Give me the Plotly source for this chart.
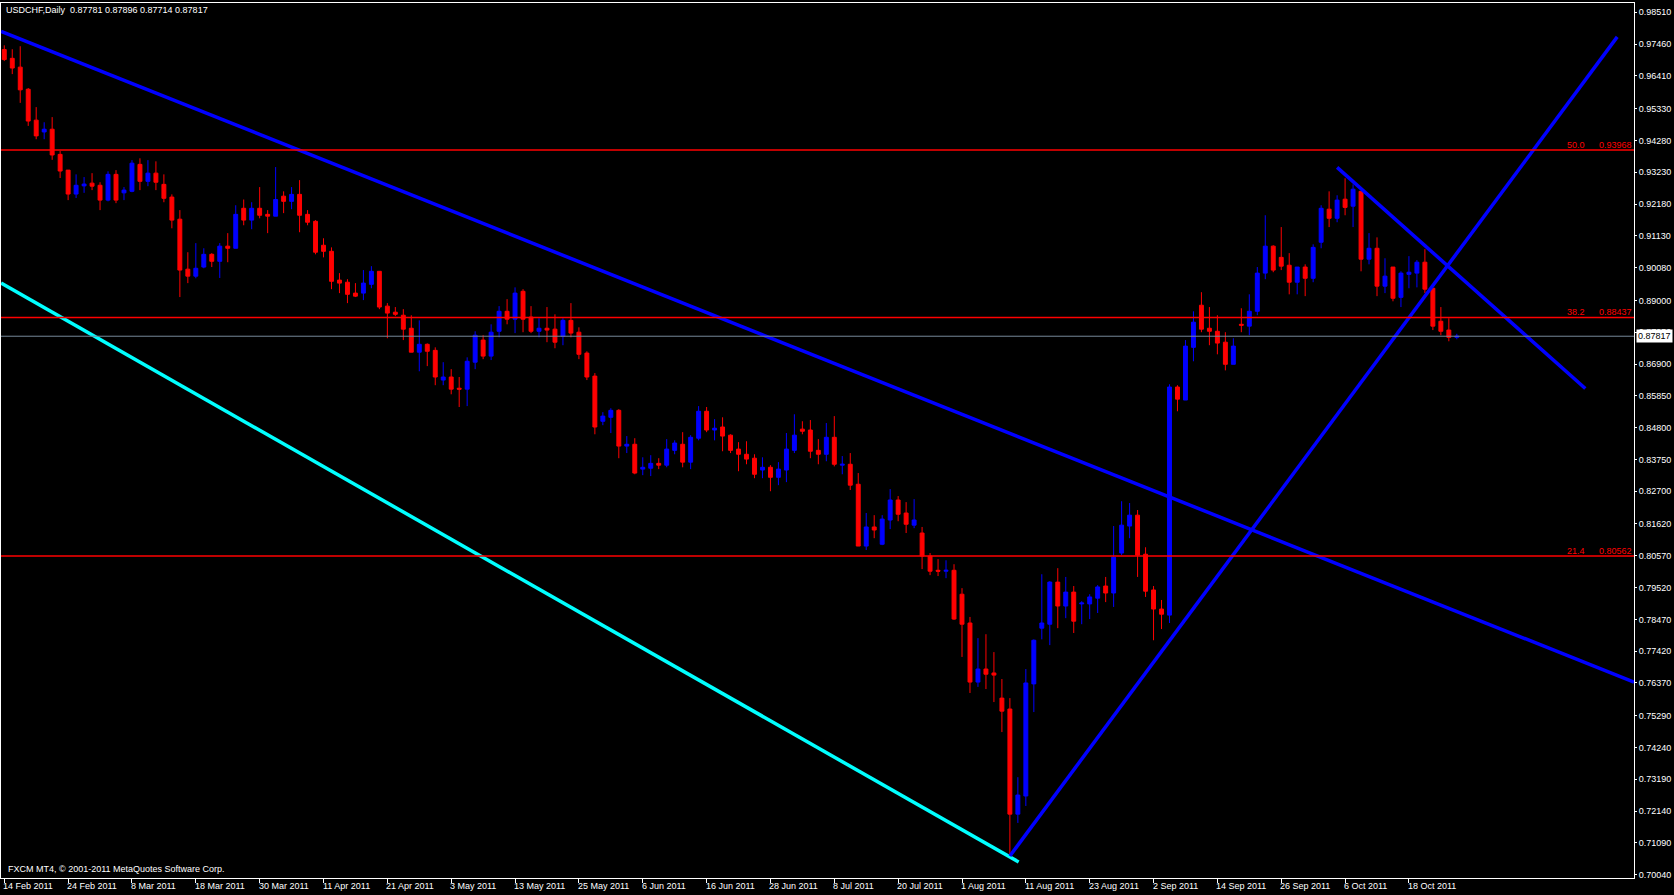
import plotly.graph_objects as go

# USDCHF daily bars (bar index 0 = 14 Feb 2011)
opens = [
    .9728, .9699, .9670, .9597, .9495, .9456, .9465, .9382, .9330, .9251,
    .9278, .9287, .9280, .9231, .9316, .9255, .9260, .9349, .9293, .9320,
    .9283, .9241, .9168, .9003, .8980, .9010, .9052, .9029, .9079, .9072,
    .9204, .9165, .9204, .9184, .9178, .9244, .9227, .9250, .9184, .9161,
    .9082, .9062, .8967, .8960, .8924, .8924, .8953, .8996, .8881, .8861,
    .8851, .8808, .8729, .8755, .8735, .8637, .8647, .8610, .8607, .8696,
    .8769, .8716, .8798, .8864, .8838, .8930, .8845, .8798, .8808, .8805,
    .8782, .8834, .8795, .8726, .8650, .8501, .8514, .8537, .8419, .8425,
    .8343, .8346, .8362, .8356, .8405, .8425, .8366, .8445, .8534, .8472,
    .8482, .8455, .8409, .8392, .8379, .8340, .8349, .8316, .8340, .8405,
    .8475, .8472, .8405, .8392, .8448, .8356, .8359, .8293, .8089, .8152,
    .8095, .8175, .8241, .8198, .8158, .8132, .8056, .8009, .8006, .8009,
    .7930, .7835, .7640, .7683, .7670, .7587, .7551, .7204, .7264, .7634,
    .7818, .7831, .7970, .7891, .7937, .7898, .7898, .7917, .7957, .7934,
    .8066, .8155, .8191, .8062, .7944, .7881, .7861, .8614, .8571, .8745,
    .8884, .8808, .8798, .8762, .8689, .8821, .8815, .8864, .8990, .9079,
    .9042, .9016, .8960, .9010, .8973, .9092, .9201, .9171, .9234, .9211,
    .9260, .9036, .9072, .8947, .9010, .8910, .8986, .8990, .9026, .8940,
    .8831, .8802, .87781,
]
highs = [
    .9742, .9729, .9739, .9601, .9538, .9488, .9505, .9393, .9330, .9316,
    .9307, .9320, .9290, .9326, .9330, .9274, .9363, .9369, .9363, .9359,
    .9316, .9250, .9198, .9059, .9089, .9072, .9056, .9089, .9122, .9214,
    .9233, .9224, .9274, .9198, .9340, .9260, .9274, .9297, .9198, .9165,
    .9105, .9075, .8990, .8970, .8957, .9000, .9013, .8996, .8891, .8878,
    .8871, .8851, .8834, .8758, .8745, .8696, .8673, .8647, .8712, .8798,
    .8785, .8821, .8881, .8904, .8943, .8937, .8881, .8841, .8878, .8854,
    .8841, .8891, .8811, .8732, .8660, .8531, .8544, .8541, .8452, .8445,
    .8382, .8389, .8379, .8442, .8438, .8465, .8455, .8551, .8548, .8508,
    .8514, .8458, .8432, .8435, .8392, .8382, .8356, .8366, .8462, .8524,
    .8501, .8505, .8442, .8495, .8518, .8386, .8396, .8330, .8198, .8191,
    .8191, .8277, .8254, .8234, .8244, .8152, .8066, .8046, .8042, .8029,
    .7950, .7855, .7785, .7798, .7739, .7650, .7587, .7326, .7683, .7781,
    .7996, .7973, .8016, .7987, .7957, .7907, .7930, .7960, .7987, .8155,
    .8237, .8231, .8208, .8085, .7957, .7911, .8623, .8620, .8769, .8864,
    .8927, .8878, .8851, .8795, .8775, .8874, .8920, .9010, .9181, .9082,
    .9142, .9056, .9010, .9019, .9085, .9214, .9260, .9247, .9303, .9283,
    .9260, .9122, .9108, .9039, .9010, .8996, .9046, .9033, .9069, .8940,
    .8878, .8841, .87896,
]
lows = [
    .9690, .9647, .9552, .9476, .9432, .9432, .9364, .9304, .9231, .9238,
    .9255, .9264, .9198, .9227, .9221, .9231, .9257, .9264, .9277, .9264,
    .9224, .9138, .8911, .8957, .8973, .9006, .9010, .8974, .9026, .9072,
    .9148, .9135, .9171, .9122, .9178, .9188, .9201, .9125, .9148, .9052,
    .9042, .8937, .8924, .8891, .8911, .8901, .8940, .8871, .8775, .8848,
    .8769, .8729, .8666, .8683, .8620, .8620, .8590, .8548, .8551, .8673,
    .8706, .8703, .8778, .8821, .8792, .8795, .8792, .8778, .8762, .8742,
    .8752, .8778, .8706, .8637, .8458, .8488, .8462, .8379, .8396, .8326,
    .8323, .8320, .8343, .8349, .8392, .8349, .8343, .8438, .8465, .8438,
    .8402, .8396, .8336, .8359, .8313, .8313, .8270, .8290, .8300, .8396,
    .8458, .8379, .8359, .8369, .8352, .8326, .8274, .8089, .8076, .8115,
    .8092, .8145, .8171, .8132, .8148, .8013, .7993, .7990, .7983, .7845,
    .7723, .7604, .7624, .7617, .7574, .7475, .7066, .7175, .7231, .7541,
    .7781, .7762, .7818, .7851, .7802, .7831, .7848, .7868, .7904, .7888,
    .8059, .8115, .7987, .7921, .7778, .7815, .7835, .8534, .8571, .8699,
    .8795, .8752, .8722, .8669, .8689, .8795, .8785, .8851, .8970, .8993,
    .9000, .8920, .8920, .8914, .8960, .9072, .9142, .9158, .9181, .9142,
    .8996, .9019, .8914, .8924, .8897, .8878, .8940, .8943, .8924, .8802,
    .8785, .8765, .87714,
]
closes = [
    .9695, .9667, .9595, .9492, .9443, .9465, .9380, .9327, .9251, .9280,
    .9284, .9277, .9231, .9316, .9231, .9264, .9353, .9293, .9320, .9290,
    .9237, .9165, .9000, .8980, .9006, .9052, .9029, .9079, .9072, .9184,
    .9165, .9204, .9181, .9178, .9233, .9227, .9250, .9181, .9158, .9059,
    .9062, .8963, .8957, .8920, .8914, .8957, .8996, .8878, .8858, .8854,
    .8805, .8729, .8755, .8732, .8647, .8647, .8607, .8607, .8699, .8785,
    .8716, .8795, .8864, .8838, .8924, .8838, .8798, .8808, .8802, .8762,
    .8834, .8792, .8722, .8647, .8482, .8518, .8537, .8419, .8425, .8330,
    .8349, .8362, .8356, .8409, .8429, .8366, .8448, .8534, .8472, .8478,
    .8452, .8405, .8392, .8376, .8326, .8349, .8316, .8343, .8409, .8455,
    .8468, .8402, .8392, .8448, .8359, .8359, .8290, .8089, .8152, .8142,
    .8178, .8241, .8194, .8161, .8175, .8056, .8006, .8006, .8009, .7848,
    .7831, .7640, .7683, .7666, .7663, .7544, .7204, .7267, .7637, .7778,
    .7835, .7970, .7891, .7937, .7841, .7901, .7921, .7954, .7934, .8052,
    .8158, .8191, .8059, .7940, .7881, .7864, .8614, .8574, .8749, .8828,
    .8805, .8798, .8759, .8689, .8749, .8818, .8864, .8990, .9079, .9000,
    .9013, .8960, .9010, .8973, .9075, .9204, .9171, .9231, .9207, .9267,
    .9036, .9072, .8947, .8980, .8907, .8990, .8993, .9026, .8937, .8815,
    .8798, .8778, .87817,
]

date_labels = [
    "14 Feb 2011", "24 Feb 2011", "8 Mar 2011", "18 Mar 2011", "30 Mar 2011",
    "11 Apr 2011", "21 Apr 2011", "3 May 2011", "13 May 2011", "25 May 2011",
    "6 Jun 2011", "16 Jun 2011", "28 Jun 2011", "8 Jul 2011", "20 Jul 2011",
    "1 Aug 2011", "11 Aug 2011", "23 Aug 2011", "2 Sep 2011", "14 Sep 2011",
    "26 Sep 2011", "6 Oct 2011", "18 Oct 2011",
]
price_ticks = [
    0.98510, 0.97460, 0.96410, 0.95330, 0.94280, 0.93230, 0.92180, 0.91130,
    0.90080, 0.89000, 0.87950, 0.86900, 0.85850, 0.84800, 0.83750, 0.82700,
    0.81620, 0.80570, 0.79520, 0.78470, 0.77420, 0.76370, 0.75290, 0.74240,
    0.73190, 0.72140, 0.71090, 0.70040,
]

# fibo levels (level, price)
fib_levels = [("50.0", 0.93968), ("38.2", 0.88437), ("21.4", 0.80562)]
bid = 0.87817

# trendlines: (bar0, price0, bar1, price1, colour)
trendlines = [
    (-0.4, 0.9788, 204.2, 0.7640, "#0000ff"),
    (-0.4, 0.8957, 127.1, 0.7046, "#00ffff"),
    (126.0, 0.7066, 202.1, 0.9770, "#0000ff"),
    (167.0, 0.9339, 198.1, 0.8609, "#0000ff"),
]

bars = list(range(len(closes)))
FONT = "Liberation Sans"

fig = go.Figure(go.Candlestick(
    x=bars, open=opens, high=highs, low=lows, close=closes,
    increasing=dict(line=dict(color="#0000ff", width=1), fillcolor="#0000ff"),
    decreasing=dict(line=dict(color="#ff0000", width=1), fillcolor="#ff0000"),
    whiskerwidth=0, hoverinfo="skip",
))

for x0, y0, x1, y1, col in trendlines:
    fig.add_shape(type="line", x0=x0, y0=y0, x1=x1, y1=y1,
                  line=dict(color=col, width=3.5))

for lvl, price in fib_levels:
    fig.add_hline(y=price, line=dict(color="#ff0000", width=1.5))
    fig.add_annotation(x=1, xref="paper", y=price, yref="y", text=f"{price:.5f}",
                       xanchor="right", yanchor="bottom", showarrow=False,
                       font=dict(color="#ff0000", size=9, family=FONT), yshift=-2)
    fig.add_annotation(x=0.9713, xref="paper", y=price, yref="y", text=lvl,
                       xanchor="right", yanchor="bottom", showarrow=False,
                       font=dict(color="#ff0000", size=9, family=FONT), yshift=-2)

fig.add_hline(y=bid, line=dict(color="#778899", width=1))
fig.add_annotation(x=1, xref="paper", y=bid, yref="y", text=f"{bid:.5f}",
                   xanchor="left", yanchor="middle", showarrow=False, xshift=2,
                   bgcolor="white", font=dict(color="black", size=9, family=FONT),
                   borderpad=1)

for i, lab in enumerate(date_labels):
    fig.add_annotation(x=i * 8, xref="x", y=0, yref="paper", text=lab,
                       xanchor="left", yanchor="top", showarrow=False, yshift=-1,
                       xshift=-3, font=dict(color="white", size=9, family=FONT))

fig.add_annotation(x=0.002, xref="paper", y=1, yref="paper", xanchor="left", yanchor="top",
                   text="USDCHF,Daily  0.87781 0.87896 0.87714 0.87817", showarrow=False,
                   font=dict(color="white", size=9, family=FONT))
fig.add_annotation(x=0.003, xref="paper", y=0, yref="paper", xanchor="left", yanchor="bottom",
                   text="FXCM MT4, © 2001-2011 MetaQuotes Software Corp.", showarrow=False,
                   yshift=2, font=dict(color="white", size=9, family=FONT))

fig.update_layout(
    width=1674, height=895,
    margin=dict(l=1, r=40, t=3, b=17),
    paper_bgcolor="black", plot_bgcolor="black",
    showlegend=False,
    font=dict(family=FONT, size=9, color="white"),
)
fig.update_xaxes(range=[-0.41, 204.2], rangeslider_visible=False, showgrid=False,
                 zeroline=False, tickvals=[i * 8 for i in range(len(date_labels))],
                 showticklabels=False, ticks="outside", ticklen=4, tickcolor="white",
                 showline=True, linecolor="white", mirror=True, linewidth=1)
fig.update_yaxes(range=[0.69932, 0.98817], side="right", showgrid=False, zeroline=False,
                 tickvals=price_ticks, ticktext=[f"{v:.5f}" for v in price_ticks],
                 ticks="outside", ticklen=2, tickcolor="white",
                 tickfont=dict(color="white", size=9, family=FONT),
                 showline=True, linecolor="white", mirror=True, linewidth=1)

fig.write_html("out.html", config={"displayModeBar": False},
               post_script="document.body.style.margin='0';document.body.style.background='black';")
